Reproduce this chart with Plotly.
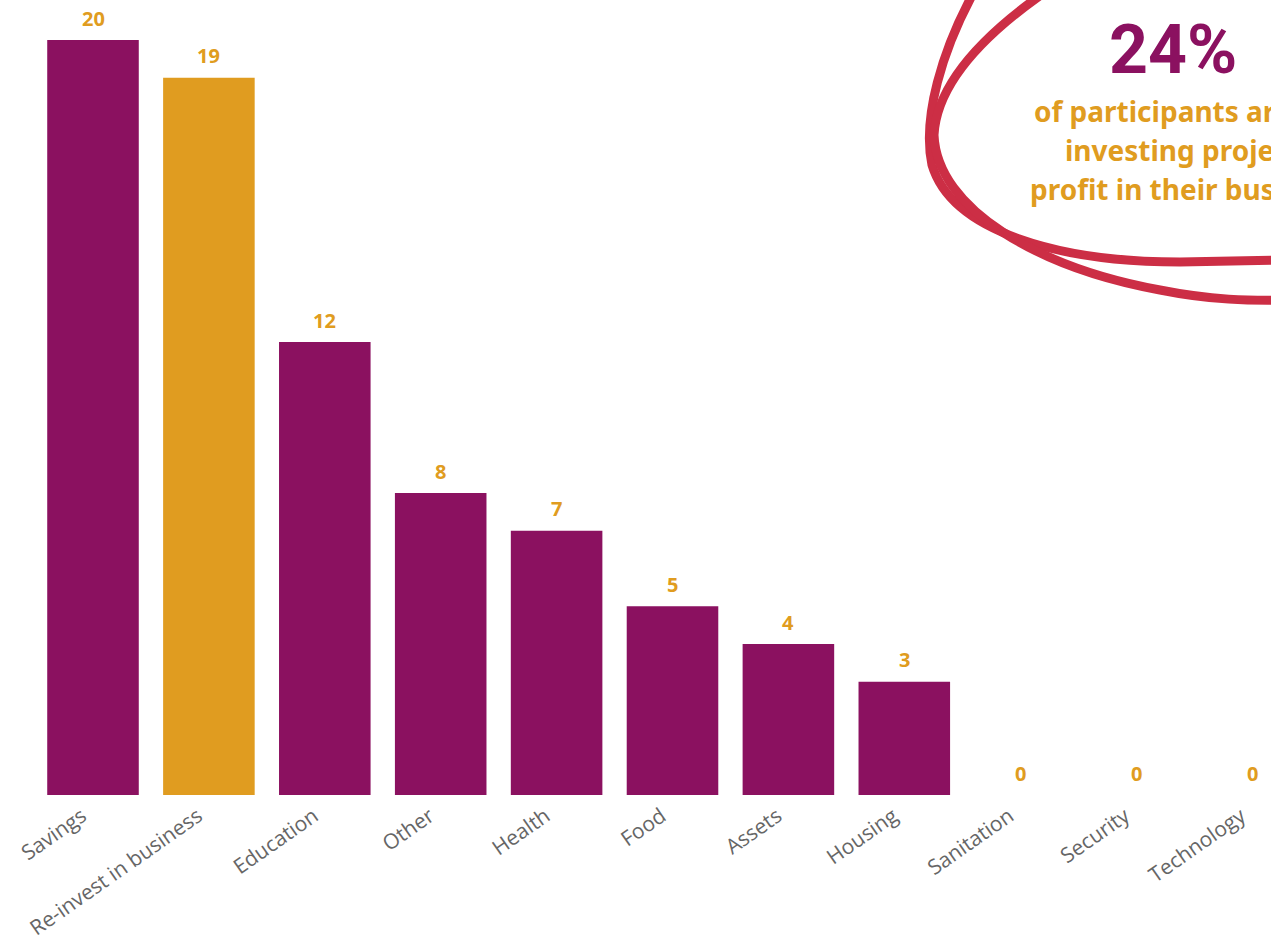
import plotly.graph_objects as go

categories = ["Savings", "Re-invest in business", "Education", "Other", "Health",
              "Food", "Assets", "Housing", "Sanitation", "Security", "Technology"]
values = [20, 19, 12, 8, 7, 5, 4, 3, 0, 0, 0]
highlight = "Re-invest in business"

PURPLE = "#8B1160"
ORANGE = "#E09C20"
RED = "#CC2E45"

colors = [ORANGE if c == highlight else PURPLE for c in categories]

W, H = 1271, 940
BASE = 795  # pixel of plot bottom

fig = go.Figure(go.Bar(
    x=categories, y=values,
    marker=dict(color=colors, line=dict(width=0)),
    width=0.79,
    cliponaxis=False,
    hoverinfo="skip",
))

def px(x, y):
    return f"{x / W:.5f},{(BASE - y) / BASE:.5f}"

pathA = ("M " + px(975, -10) + " C " + px(942, 50) + " " + px(922, 118) + " " + px(932, 165)
         + " C " + px(952, 232) + " " + px(1060, 262) + " " + px(1180, 262)
         + " L " + px(1290, 260))
pathB = ("M " + px(1048, -10) + " C " + px(990, 30) + " " + px(937, 80) + " " + px(934, 135)
         + " C " + px(937, 210) + " " + px(1040, 268) + " " + px(1160, 290)
         + " C " + px(1210, 300) + " " + px(1250, 301) + " " + px(1290, 300))

shapes = [dict(type="path", path=p, xref="paper", yref="paper",
               line=dict(color=RED, width=9), layer="above") for p in (pathA, pathB)]

annotations = []
for c, v in zip(categories, values):
    annotations.append(dict(text=str(v), x=c, y=v, xref="x", yref="y", showarrow=False,
                            xanchor="center", yanchor="middle", yshift=22,
                            font=dict(color=ORANGE, size=20, family="Noto Sans", weight="bold")))

annotations.append(
    dict(text="24%", x=1173 / W, y=(BASE - 50) / BASE, xref="paper", yref="paper",
         showarrow=False, xanchor="center", yanchor="middle",
         font=dict(color=PURPLE, size=68, family="Roboto", weight="bold")))
lines = [("of participants are re-", 1032, 111), ("investing projected", 1063, 150),
         ("profit in their business", 1028, 189)]
for t, lx, ly in lines:
    annotations.append(dict(text=t, x=lx / W, y=(BASE - ly) / BASE, xref="paper", yref="paper",
                            showarrow=False, xanchor="left", yanchor="middle",
                            font=dict(color=ORANGE, size=28, family="Noto Sans", weight="bold")))

spacing = 115.9
r0 = -93 / spacing
r1 = r0 + W / spacing

fig.update_layout(
    width=W, height=H,
    margin=dict(l=0, r=0, t=0, b=H - BASE, pad=0),
    paper_bgcolor="white", plot_bgcolor="white",
    showlegend=False,
    xaxis=dict(range=[r0, r1], tickangle=-35, showgrid=False, showline=False, zeroline=False,
               ticks="", ticklabelshift=-11, ticklabelstandoff=4,
               tickfont=dict(color="#666666", size=21, family="Open Sans")),
    yaxis=dict(range=[0, BASE / 37.75], visible=False, showgrid=False, zeroline=False),
    shapes=shapes,
    annotations=annotations,
)

fig.write_html("out.html")
